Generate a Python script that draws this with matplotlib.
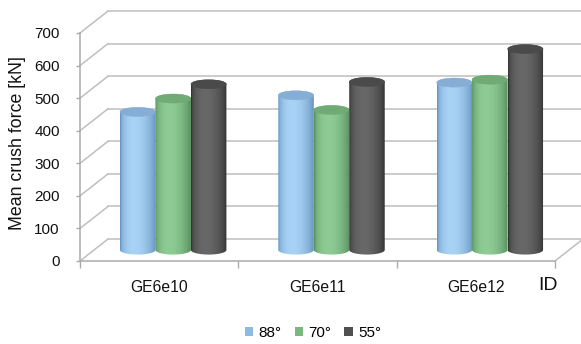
import numpy as np
import matplotlib
matplotlib.use("Agg")
import matplotlib.pyplot as plt
from matplotlib.patches import Ellipse, PathPatch, Patch
from matplotlib.path import Path

plt.rcParams['font.family'] = ['Liberation Sans', 'DejaVu Sans']

# ---- data -------------------------------------------------------------
categories = ['GE6e10', 'GE6e11', 'GE6e12']
series_labels = ['88°', '70°', '55°']
force_88 = [424, 475, 514]
force_70 = [465, 430, 523]
force_55 = [509, 516, 617]
y_ticks = [0, 100, 200, 300, 400, 500, 600, 700]

series_values = [force_88, force_70, force_55]

# ---- styling ----------------------------------------------------------
# (light centre, dark edge, cap, legend swatch) per series
palette = [
    ('#a9d3f5', '#5e8cb9', '#86aed4', '#8dbbe3'),
    ('#8fcb95', '#4f8956', '#70ab76', '#7ab87f'),
    ('#686868', '#2e2e2e', '#4a4a4a', '#505050'),
]
grid_col = '#bfbfbf'
axis_col = '#ababab'

# depth of the 3-D box, in data units (front plane -> back wall)
DEPTH_X = 0.177
DEPTH_Y = 67.5
BAR_W = 0.224
CAP_RY = 14.0          # half-height of the cylinder ellipses (value units)

fig = plt.figure(figsize=(5.81, 3.44), dpi=100)
ax = fig.add_axes([80 / 581, 83 / 344, 475 / 581, 228 / 344])
ax.set_xlim(-0.5, 2.5)
ax.set_ylim(0, 700)
ax.patch.set_visible(False)

# ---- back wall, side wall and floor -----------------------------------
for v in y_ticks:
    ax.plot([-0.5 + DEPTH_X, 2.5 + DEPTH_X], [v + DEPTH_Y, v + DEPTH_Y],
            color=grid_col, lw=1.1, clip_on=False, zorder=1)
    ax.plot([-0.5, -0.5 + DEPTH_X], [v, v + DEPTH_Y],
            color=grid_col, lw=1.1, clip_on=False, zorder=1)
ax.plot([2.5, 2.5 + DEPTH_X], [0, DEPTH_Y], color=grid_col, lw=1.1,
        clip_on=False, zorder=1)


# ---- cylinders --------------------------------------------------------
def hex_rgb(h):
    h = h.lstrip('#')
    return np.array([int(h[i:i + 2], 16) / 255 for i in (0, 2, 4)])


def cylinder(xc, value, light, dark, cap, z):
    rx = BAR_W / 2
    yb = DEPTH_Y / 2
    yt = value + DEPTH_Y / 2
    th_b = np.linspace(np.pi, 2 * np.pi, 40)
    th_t = np.linspace(0, np.pi, 40)
    xs = np.concatenate([xc + rx * np.cos(th_b), xc + rx * np.cos(th_t)])
    ys = np.concatenate([yb + CAP_RY * np.sin(th_b), yt + CAP_RY * np.sin(th_t)])
    verts = np.column_stack([xs, ys])
    verts = np.vstack([verts, verts[:1]])
    codes = [Path.MOVETO] + [Path.LINETO] * (len(verts) - 2) + [Path.CLOSEPOLY]
    outline = PathPatch(Path(verts, codes), facecolor='none', edgecolor='none',
                        transform=ax.transData)
    ax.add_patch(outline)

    t = np.linspace(0, 1, 64)
    prof = np.sin(np.pi * t ** 0.756) ** 0.6
    lc, dc = hex_rgb(light), hex_rgb(dark)
    grad = dc[None, :] + (lc - dc)[None, :] * prof[:, None]
    img = ax.imshow(grad[None, :, :], extent=[xc - rx, xc + rx, yb - CAP_RY, yt + CAP_RY],
                    aspect='auto', interpolation='bilinear', zorder=z)
    img.set_clip_path(outline)

    ax.add_patch(Ellipse((xc, yt), 2 * rx, 2 * CAP_RY, facecolor=cap,
                         edgecolor=cap, lw=0.3, zorder=z + 0.1))


z = 3
for ci in range(len(categories)):
    for si, vals in enumerate(series_values):
        xc = ci + DEPTH_X / 2 + (si - 1) * BAR_W
        light, dark, cap, _ = palette[si]
        cylinder(xc, vals[ci], light, dark, cap, z)
        z += 0.2

ax.set_xlim(-0.5, 2.5)
ax.set_ylim(0, 700)

# ---- axes -------------------------------------------------------------
for side in ('top', 'right'):
    ax.spines[side].set_visible(False)
for side in ('left', 'bottom'):
    ax.spines[side].set_color(axis_col)
    ax.spines[side].set_linewidth(1.1)

ax.set_yticks(y_ticks)
ax.set_yticklabels([str(v) for v in y_ticks])
ax.tick_params(axis='y', length=3, width=1, color=axis_col, pad=11.5,
               labelsize=11, labelcolor='#111111')

ax.set_xticks(range(len(categories)))
ax.set_xticklabels(categories)
ax.set_xticks([-0.5, 0.5, 1.5, 2.5], minor=True)
ax.tick_params(axis='x', which='major', length=0, pad=14, labelsize=11.3,
               labelcolor='#111111')
ax.tick_params(axis='x', which='minor', length=5, width=1, color=axis_col)

ax.set_ylabel('Mean crush force [kN]', fontsize=12.8, color='#111111')
ax.yaxis.set_label_coords(-0.114, 0.5175)

ax.annotate('ID', xy=(2.456, 0), xytext=(0, -17.5), textcoords='offset points',
            ha='center', va='center', fontsize=14, color='#111111',
            annotation_clip=False)

# ---- legend -----------------------------------------------------------
handles = [Patch(facecolor=p[3], edgecolor='none') for p in palette]
fig.legend(handles, series_labels, loc='center',
           bbox_to_anchor=(313 / 581, 1 - 333 / 344), ncol=3, frameon=False,
           fontsize=11, handlelength=0.55, handleheight=0.55,
           handletextpad=0.35, columnspacing=0.85, borderpad=0)

fig.savefig('out.png', dpi=100, facecolor='white')
